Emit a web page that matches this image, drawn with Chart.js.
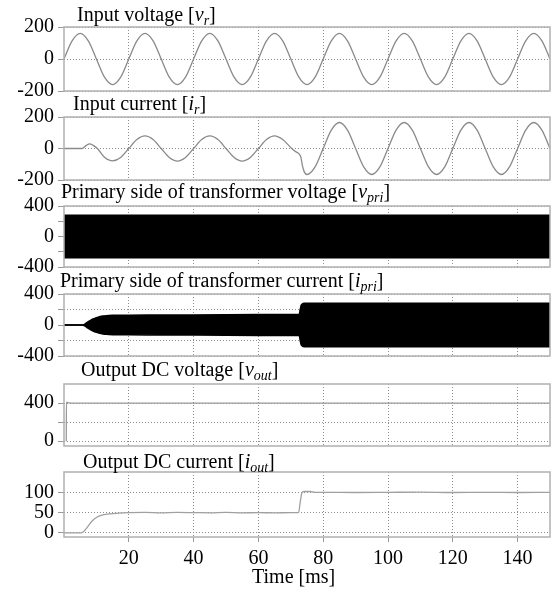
<!DOCTYPE html>
<html>
<head>
<meta charset="utf-8">
<script src="https://cdn.jsdelivr.net/npm/chart.js@4.4.1/dist/chart.umd.min.js"></script>
<style>
  body { margin: 0; background: #fff; width: 557px; height: 589px; position: relative; overflow: hidden;
         font-family: 'Liberation Serif', 'Times New Roman', serif; }
  canvas { position: absolute; left: 0; }
  .ttl { position: absolute; font-size: 20px; line-height: 20px; white-space: nowrap; color: #000; z-index: 2; }
  .ttl sub { font-size: 14px; line-height: 0; vertical-align: -4px; font-style: italic; }
</style>
</head>
<body>
<div class="ttl" style="left:77px;top:4px">Input voltage [<i>v</i><sub>r</sub>]</div>
<div class="ttl" style="left:73px;top:93px">Input current [<i>i</i><sub>r</sub>]</div>
<div class="ttl" style="left:61px;top:181px">Primary side of transformer voltage [<i>v</i><sub>pri</sub>]</div>
<div class="ttl" style="left:60px;top:270px">Primary side of transformer current [<i>i</i><sub>pri</sub>]</div>
<div class="ttl" style="left:81px;top:359px">Output DC voltage [<i>v</i><sub>out</sub>]</div>
<div class="ttl" style="left:83px;top:451px">Output DC current [<i>i</i><sub>out</sub>]</div>
<div class="ttl" style="left:252px;top:566px">Time [ms]</div>
<script>
// time axis (ms)
const xTicks = [20, 40, 60, 80, 100, 120, 140];

// input voltage v_r, sampled every 2.5 ms
const tGrid = [0,2.5,5,7.5,10,12.5,15,17.5,20,22.5,25,27.5,30,32.5,35,37.5,40,42.5,45,47.5,50,52.5,55,57.5,60,
  62.5,65,67.5,70,72.5,75,77.5,80,82.5,85,87.5,90,92.5,95,97.5,100,102.5,105,107.5,110,112.5,115,117.5,120,
  122.5,125,127.5,130,132.5,135,137.5,140,142.5,145,147.5,150];
const vR = [0,113,160,113,0,-113,-160,-113, 0,113,160,113,0,-113,-160,-113, 0,113,160,113,0,-113,-160,-113,
  0,113,160,113,0,-113,-160,-113, 0,113,160,113,0,-113,-160,-113, 0,113,160,113,0,-113,-160,-113,
  0,113,160,113,0,-113,-160,-113, 0,113,160,113,0];

// input current i_r
const tI = [0,5,5.7,6.8,7.9,9,10.3,12.5,15,17.5,20,22.5,25,27.5,30,32.5,35,37.5,40,42.5,45,47.5,50,52.5,55,57.5,
  60,62.5,65,67.5,70.3,71.5,72.5,73.1,73.6,74.2,75,77.5,80,82.5,85,87.5,90,92.5,95,97.5,100,102.5,105,107.5,
  110,112.5,115,117.5,120,122.5,125,127.5,130,132.5,135,137.5,140,142.5,145,147.5,150];
const iR = [0,0,1,18,30,20,0,-55,-78,-57,0,57,80,57,0,-57,-80,-57,0,57,80,57,0,-57,-80,-57,
  0,57,80,57,0,-20,-33,-55,-110,-150,-165,-117,0,117,165,117,0,-117,-165,-117,0,117,165,117,
  0,-117,-165,-117,0,117,165,117,0,-117,-165,-117,0,117,165,117,0];

// primary voltage v_pri (switching envelope)
const tPv = [0, 150];
const vPriHi = [278, 278];
const vPriLo = [-278, -278];

// primary current i_pri (switching envelope)
const tPi = [0,5.5,6,6.5,7,8,9,10,11,12,13,15,20,30,40,50,60,70,72.6,72.9,73.2,73.6,74.2,75,80,100,150];
const iPriHi = [0,0,3,15,30,55,78,95,108,116,121,125,127,128,130,132,134,136,137,200,255,272,280,282,280,280,280];
const iPriLo = [0,0,-3,-15,-30,-55,-78,-95,-108,-116,-121,-125,-127,-128,-130,-132,-134,-136,-137,-200,-255,-272,-280,-282,-280,-280,-280];

// output DC voltage v_out
const tVo = [0.7, 0.75, 1.5, 3, 150];
const vOut = [0, 410, 402, 400, 400];

// output DC current i_out
const tIo = [0,5.3,6,7,8,9,10,11,12,14,17,20,25,30,35,40,45,50,55,60,65,70,72.4,72.9,73.4,74,76,77.5,80,90,100,110,120,130,140,150];
const iOut = [0,0,3,12,23,32,38,42,44.5,47,49,50,50.5,49.5,50.5,50,49.5,50.5,49.5,50,49.5,50,50,75,98,102,102,100,100,99.5,100,100.5,99.5,100,99.5,100];

// y ticks and labelled values per panel
const yTicks1 = [-200, 0, 200], yLab1 = [-200, 0, 200];
const yTicks2 = [-200, 0, 200], yLab2 = [-200, 0, 200];
const yTicks3 = [-400, -200, 0, 200, 400], yLab3 = [-400, 0, 400];
const yTicks4 = [-400, -200, 0, 200, 400], yLab4 = [-400, 0, 400];
const yTicks5 = [0, 200, 400], yLab5 = [0, 400];
const yTicks6 = [0, 50, 100], yLab6 = [0, 50, 100];

const toXY = (ts, vs) => ts.map((t, k) => ({ x: t, y: vs[k] }));

const LEFT = 64, RIGHT = 550, PAD = 14, W = 557;
const FONT = { family: "'Liberation Serif', 'Times New Roman', serif", size: 20 };

const boxPlugin = {
  id: 'box',
  afterDraw(chart) {
    const { ctx, chartArea: a } = chart;
    ctx.save();
    ctx.strokeStyle = '#b0b0b0';
    ctx.lineWidth = 1.5;
    ctx.strokeRect(a.left, a.top, a.right - a.left, a.bottom - a.top);
    ctx.restore();
  }
};

function line(ts, vs, color, width) {
  return { data: toXY(ts, vs), borderColor: color, borderWidth: width, pointRadius: 0,
           cubicInterpolationMode: 'monotone', fill: false };
}
function band(ts, hi, lo) {
  return [
    { data: toXY(ts, hi), borderColor: '#000', backgroundColor: '#000', borderWidth: 1.5, pointRadius: 0,
      cubicInterpolationMode: 'monotone', fill: '+1' },
    { data: toXY(ts, lo), borderColor: '#000', borderWidth: 1.5, pointRadius: 0,
      cubicInterpolationMode: 'monotone', fill: false }
  ];
}

function panel(top, bottom, yMin, yMax, ticks, labels, datasets, showX) {
  const plotH = bottom - top;
  const xH = showX ? 44 : 0;
  const cv = document.createElement('canvas');
  cv.width = W;
  cv.height = PAD + plotH + (showX ? xH : PAD);
  cv.style.top = (top - PAD) + 'px';
  document.body.appendChild(cv);
  new Chart(cv, {
    type: 'line',
    data: { datasets },
    plugins: [boxPlugin],
    options: {
      responsive: false, animation: false, devicePixelRatio: 1,
      layout: { padding: { top: PAD, bottom: showX ? 0 : PAD, left: 0, right: W - RIGHT } },
      plugins: { legend: { display: false }, tooltip: { enabled: false } },
      scales: {
        x: {
          type: 'linear', min: 0, max: 150,
          afterBuildTicks: s => { s.ticks = xTicks.map(v => ({ value: v })); },
          afterFit: s => { s.height = xH; },
          border: { display: false, dash: [1, 2] },
          grid: { color: '#8c8c8c', lineWidth: 1, drawTicks: showX, tickLength: 5,
                  tickColor: '#999', tickBorderDash: [], tickWidth: 1 },
          ticks: { display: showX, color: '#000', font: FONT, padding: 5, maxRotation: 0, autoSkip: false }
        },
        y: {
          min: yMin, max: yMax,
          afterBuildTicks: s => { s.ticks = ticks.map(v => ({ value: v })); },
          afterFit: s => { s.width = LEFT; },
          border: { display: false, dash: [1, 2] },
          grid: { color: '#8c8c8c', lineWidth: 1, drawTicks: true, tickLength: 6,
                  tickColor: '#999', tickBorderDash: [], tickWidth: 1 },
          ticks: { color: '#000', font: FONT, padding: 4, autoSkip: false,
                   callback: v => labels.includes(v) ? String(v) : '' }
        }
      }
    }
  });
}

panel(25, 93, -200, 200, yTicks1, yLab1, [line(tGrid, vR, '#8a8a8a', 1.3)], false);
panel(115, 182, -200, 200, yTicks2, yLab2, [line(tI, iR, '#8a8a8a', 1.3)], false);
panel(204, 269, -400, 400, yTicks3, yLab3, band(tPv, vPriHi, vPriLo), false);
panel(292, 358, -400, 400, yTicks4, yLab4, band(tPi, iPriHi, iPriLo), false);
panel(382, 448, -50, 600, yTicks5, yLab5, [line(tVo, vOut, '#9a9a9a', 1.3)], false);
panel(470, 537, -10, 150, yTicks6, yLab6, [line(tIo, iOut, '#a0a0a0', 1.3)], true);
</script>
</body>
</html>
